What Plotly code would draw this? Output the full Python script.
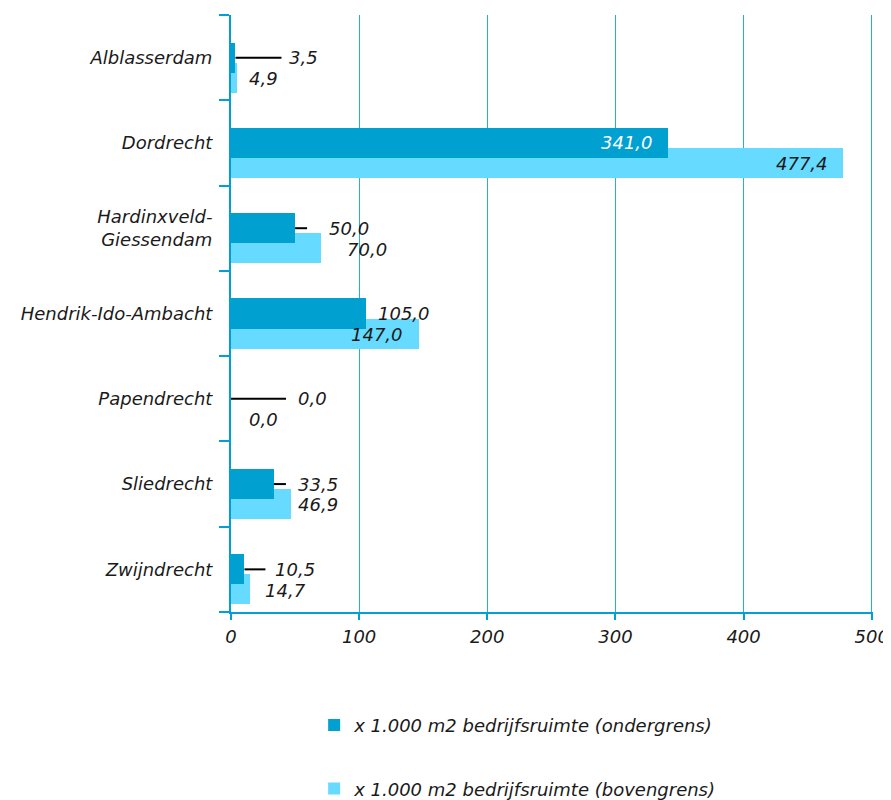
import plotly.graph_objects as go

# ---------------- data ----------------
categories = ["Alblasserdam", "Dordrecht", "Hardinxveld-<br>Giessendam", "Hendrik-Ido-Ambacht",
              "Papendrecht", "Sliedrecht", "Zwijndrecht"]
ondergrens = [3.5, 341.0, 50.0, 105.0, 0.0, 33.5, 10.5]
bovengrens = [4.9, 477.4, 70.0, 147.0, 0.0, 46.9, 14.7]
x_ticks = [0, 100, 200, 300, 400, 500]
name_onder = "x 1.000 m2 bedrijfsruimte (ondergrens)"
name_boven = "x 1.000 m2 bedrijfsruimte (bovengrens)"

# ---------------- label layout (pixel offsets, manually placed labels) ----------------
onder_label_dx = [68, -41, 54, 38, 81, 44, 51]
boven_label_dx = [26, -41, 46, -42, 32, 27, 36]
leader_len = [46, 0, 12, 0, 55, 12, 21]

DARK = "#00A0D1"
LIGHT = "#66DBFF"
AXIS = "#00A0D6"
GRID = "#1FB0E4"
FONT = "DejaVu Sans"
TXT = "#1a1a1a"
FS = 18

def fmt(v):
    return f"{v:.1f}".replace(".", ",")

pos = list(range(len(categories)))

fig = go.Figure()
fig.add_trace(go.Bar(
    y=pos, x=bovengrens, orientation="h", name=name_boven,
    marker=dict(color=LIGHT, line=dict(width=0)),
    width=0.352, offset=0.059, legendrank=2, legendgroup="b", hoverinfo="x",
))
fig.add_trace(go.Bar(
    y=pos, x=ondergrens, orientation="h", name=name_onder,
    marker=dict(color=DARK, line=dict(width=0)),
    width=0.352, offset=-0.176, legendrank=1, legendgroup="a", hoverinfo="x",
))

annotations = []
shapes = []
for i, (lo, hi) in enumerate(zip(ondergrens, bovengrens)):
    inside_lo = onder_label_dx[i] < 0
    annotations.append(dict(
        x=lo, y=i, xref="x", yref="y", text=fmt(lo), showarrow=False,
        xshift=onder_label_dx[i], xanchor="center", yanchor="middle",
        font=dict(family=FONT, size=FS, style="italic",
                  color="white" if inside_lo else TXT),
    ))
    annotations.append(dict(
        x=hi, y=i + 0.245, xref="x", yref="y", text=fmt(hi), showarrow=False,
        xshift=boven_label_dx[i], xanchor="center", yanchor="middle",
        font=dict(family=FONT, size=FS, style="italic", color=TXT),
    ))
    if leader_len[i] > 0:
        shapes.append(dict(
            type="line", xref="x", yref="y", xsizemode="pixel", xanchor=lo,
            x0=0, x1=leader_len[i], y0=i, y1=i,
            line=dict(color="black", width=2), layer="above",
        ))

fig.update_layout(
    width=883, height=792,
    margin=dict(l=223, r=18, t=7, b=188, autoexpand=False),
    paper_bgcolor="white", plot_bgcolor="white",
    barmode="overlay", bargap=0,
    font=dict(family=FONT, size=FS, color=TXT),
    showlegend=True,
    legend=dict(
        x=0.1295, y=-0.159, xanchor="left", yanchor="top",
        orientation="v", traceorder="grouped", tracegroupgap=37,
        font=dict(family=FONT, size=FS, style="italic", color=TXT),
        itemwidth=30, bgcolor="rgba(0,0,0,0)",
    ),
    annotations=annotations,
    shapes=shapes,
)

fig.update_xaxes(
    range=[0, 501], tickvals=x_ticks, ticktext=[str(t) for t in x_ticks],
    showgrid=True, gridcolor=GRID, gridwidth=1.3,
    showline=True, linecolor=AXIS, linewidth=2,
    ticks="outside", ticklen=6, tickwidth=2, tickcolor=AXIS,
    tickfont=dict(family=FONT, size=FS, style="italic", color=TXT),
    ticklabelstandoff=1, zeroline=False, fixedrange=True, automargin=False,
)
fig.update_yaxes(
    range=[6.5, -0.5], tickmode="array", tickvals=pos, ticktext=categories,
    ticks="", showgrid=False, zeroline=False,
    showline=True, linecolor=AXIS, linewidth=2,
    tickfont=dict(family=FONT, size=FS, style="italic", color=TXT),
    ticklabelstandoff=13,
    minor=dict(tickmode="array", tickvals=[p - 0.5 for p in pos] + [len(pos) - 0.5],
               ticks="outside", ticklen=10, tickwidth=2, tickcolor=AXIS, showgrid=False),
    fixedrange=True, automargin=False,
)

fig.write_html("out.html")
